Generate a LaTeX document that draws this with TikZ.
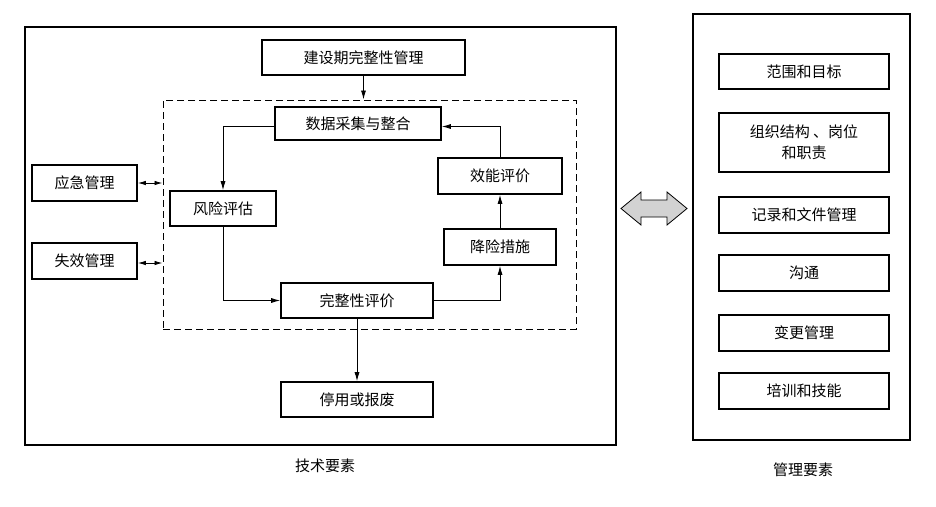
\documentclass[tikz,border=0pt]{standalone}
\usepackage{fontspec}
\setmainfont{Noto Sans CJK SC}
\usetikzlibrary{arrows.meta,calc}
\begin{document}
\begin{tikzpicture}[x=1pt,y=-1pt,
  box/.style={draw,line width=1.6pt,inner sep=0pt,align=center,font=\fontsize{15}{21}\selectfont},
  frame/.style={draw,line width=1.6pt,inner sep=0pt},
  dbox/.style={draw,dashed,dash pattern=on 7pt off 4pt,line width=1pt,inner sep=0pt},
  conn/.style={line width=0.9pt,-{Latex[length=9pt,width=5pt]}},
  bconn/.style={line width=0.9pt,{Latex[length=8pt,width=4.5pt]}-{Latex[length=8pt,width=4.5pt]}},
  lbl/.style={font=\fontsize{15}{18}\selectfont}]
\useasboundingbox (0,0) rectangle (936,506);
% outer frames
\node[frame,minimum width=591pt,minimum height=418pt] (tech) at (320.5,236) {};
\node[frame,minimum width=217pt,minimum height=426pt] (mgmt) at (801.5,227) {};
\node[dbox,minimum width=413pt,minimum height=229pt] (dash) at (369.5,214.5) {};
% left nodes
\node[box,minimum width=203pt,minimum height=35pt] (jian) at (363.5,57.5) {建设期完整性管理};
\node[box,minimum width=166pt,minimum height=33pt] (data) at (358,123.5) {数据采集与整合};
\node[box,minimum width=106pt,minimum height=35pt] (risk) at (223,208.5) {风险评估};
\node[box,minimum width=124pt,minimum height=36pt] (eff) at (500,176) {效能评价};
\node[box,minimum width=112pt,minimum height=36pt] (mit) at (500,247) {降险措施};
\node[box,minimum width=152pt,minimum height=35pt] (integ) at (357,300.5) {完整性评价};
\node[box,minimum width=152pt,minimum height=35pt] (stop) at (357,399.5) {停用或报废};
\node[box,minimum width=105pt,minimum height=36pt] (emer) at (84.5,183) {应急管理};
\node[box,minimum width=105pt,minimum height=36pt] (fail) at (84.5,261) {失效管理};
% right nodes
\node[box,minimum width=170pt,minimum height=35pt] (m1) at (804,71.5) {范围和目标};
\node[box,minimum width=170pt,minimum height=59pt] (m2) at (804,142.5) {组织结构 、岗位\\和职责};
\node[box,minimum width=170pt,minimum height=36pt] (m3) at (804,215) {记录和文件管理};
\node[box,minimum width=170pt,minimum height=36pt] (m4) at (804,273) {沟通};
\node[box,minimum width=170pt,minimum height=36pt] (m5) at (804,333) {变更管理};
\node[box,minimum width=170pt,minimum height=36pt] (m6) at (804,391) {培训和技能};
% labels
\node[lbl] (tl) at (325,466) {技术要素};
\node[lbl] (ml) at (803,470) {管理要素};
% connectors
\draw[conn] (jian.south) -- (jian.south |- dash.north);
\draw[conn] ($(data.west)+(0,3)$) -| (risk.north);
\draw[conn] (risk.south) |- (integ.west);
\draw[conn] (integ.east) -| (mit.south);
\draw[conn] (mit.north) -- (eff.north |- eff.south);
\draw[conn] (eff.north) |- ($(data.east)+(0,3)$);
\draw[conn] (integ.south) -- (stop.north);
\draw[bconn] (emer.east) -- (emer.east -| dash.west);
\draw[bconn] ($(fail.east)+(0,2)$) -- ($(fail.east -| dash.west)+(0,2)$);
% block double arrow
\draw[line width=0.8pt,fill=gray!35] (621,208.5) -- (641,192) -- (641,200) -- (667,200) -- (667,192) -- (687,208.5) -- (667,225) -- (667,217) -- (641,217) -- (641,225) -- cycle;
\end{tikzpicture}
\end{document}
